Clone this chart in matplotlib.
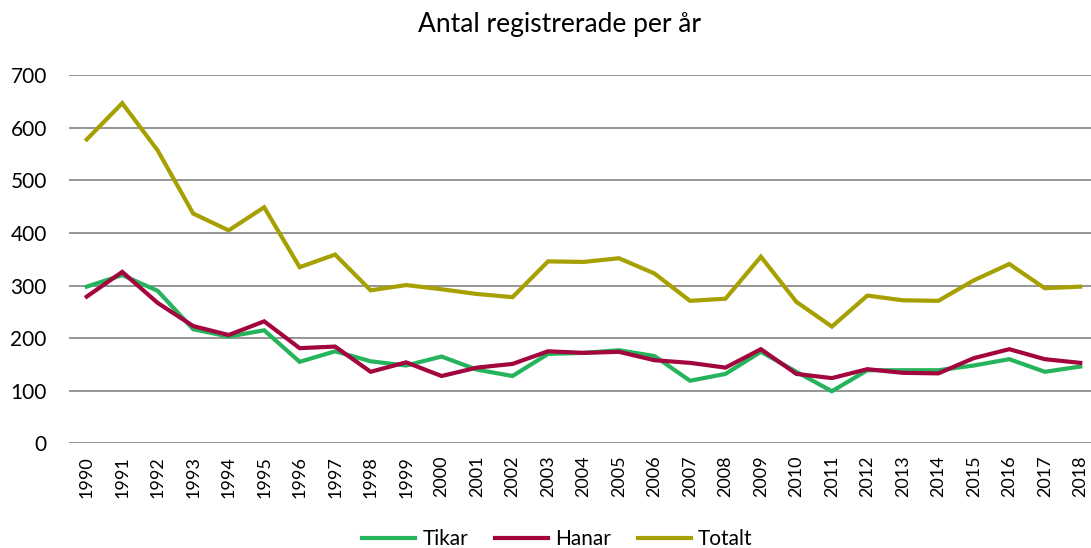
import matplotlib
matplotlib.use("Agg")
import matplotlib.pyplot as plt

years = [str(y) for y in range(1990, 2019)]
tikar = [298, 320, 290, 217, 203, 215, 155, 175, 156, 148,
         165, 140, 128, 170, 172, 177, 166, 119, 132, 174,
         136, 99, 139, 139, 139, 148, 160, 136, 146]
hanar = [279, 326, 267, 223, 206, 232, 181, 184, 136, 154,
         128, 144, 151, 175, 172, 174, 158, 153, 144, 179,
         132, 124, 141, 134, 133, 162, 179, 160, 153]
totalt = [578, 647, 557, 437, 405, 449, 335, 359, 291, 301,
          293, 284, 278, 346, 345, 352, 323, 271, 275, 355,
          269, 222, 281, 272, 271, 310, 341, 295, 298]

plt.rcParams['font.family'] = ['Lato', 'DejaVu Sans']

fig = plt.figure(figsize=(10.91, 5.48), dpi=100)
ax = fig.add_axes([69/1091, (548-443.3)/548, 1029/1091, (443.3-75.3)/548])

x = list(range(len(years)))
ax.plot(x, tikar, color='#25B45C', lw=3, label='Tikar', solid_joinstyle='miter')
ax.plot(x, hanar, color='#A3063F', lw=3, label='Hanar', solid_joinstyle='miter')
ax.plot(x, totalt, color='#A6A000', lw=3, label='Totalt', solid_joinstyle='miter')

ax.set_xlim(-0.5, len(years) - 0.5)
ax.set_ylim(0, 700)
ax.set_yticks(range(0, 701, 100))
ax.set_xticks(x)
ax.set_xticklabels(years, rotation=90, fontsize=13)
ax.tick_params(axis='y', labelsize=15, length=0, pad=16)
ax.tick_params(axis='x', length=0, pad=9)
ax.grid(axis='y', color='#8c8c8c', lw=1.3)
ax.set_axisbelow(True)
for s in ax.spines.values():
    s.set_visible(False)

fig.text(0.513, 1 - 32/548, 'Antal registrerade per år', ha='center', va='baseline', fontsize=19)

leg = fig.legend(loc='center', bbox_to_anchor=(0.511, 1 - 539/548), ncol=3, frameon=False,
                 fontsize=15, handlelength=2.55, columnspacing=1.3, handletextpad=0.33,
                 borderpad=0, borderaxespad=0)

fig.savefig('out.png', dpi=100)
